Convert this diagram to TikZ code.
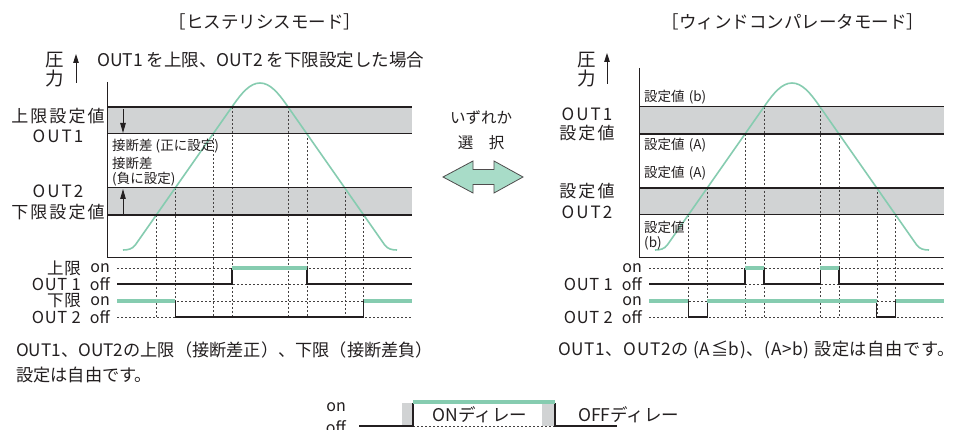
\documentclass[tikz,border=0pt]{standalone}
\usepackage{fontspec}
\setmainfont{Noto Sans CJK JP}
\usetikzlibrary{arrows.meta}
\definecolor{ink}{HTML}{231F20}
\definecolor{grn}{HTML}{86CCB0}
\definecolor{arrfill}{HTML}{A8DCC8}
\definecolor{band}{HTML}{D1D3D4}
\tikzset{
  lbl/.style={font=\fontsize{17.5}{20}\selectfont, text=ink, inner sep=0pt},
  side/.style={font=\fontsize{17}{20}\selectfont\addfontfeatures{LetterSpace=12}, text=ink, inner sep=0pt},
  ctr/.style={font=\fontsize{15.5}{18}\selectfont, text=ink, inner sep=0pt},
  bot/.style={font=\fontsize{17.2}{20}\selectfont, text=ink, inner sep=0pt},
  botr/.style={font=\fontsize{17.2}{20}\selectfont\addfontfeatures{LetterSpace=4}, text=ink, inner sep=0pt},
  prs/.style={font=\fontsize{18.5}{20}\selectfont, text=ink, inner sep=0pt},
  ttl/.style={font=\fontsize{17.5}{20}\selectfont, text=ink, inner sep=0pt},
  sml/.style={font=\fontsize{13.5}{16}\selectfont, text=ink, inner sep=0pt},
  onoff/.style={font=\fontsize{16}{18}\selectfont, text=ink, inner sep=0pt},
  onoffw/.style={font=\fontsize{16.5}{18}\selectfont\addfontfeatures{LetterSpace=4}, text=ink, inner sep=0pt},
  dsh/.style={draw=ink!85, line width=0.6pt, dash pattern=on 2.2pt off 1.8pt},
  sig/.style={draw=ink, line width=1.2pt},
  grs/.style={draw=grn, line width=4pt},
  thk/.style={draw=ink, line width=2.2pt},
  thn/.style={draw=ink, line width=1pt},
  curve/.style={draw=grn, line width=1.6pt},
}
\begin{document}
\begin{tikzpicture}[x=1pt,y=-1pt]
\useasboundingbox (0,0) rectangle (958,430);
\fill[white] (0,0) rectangle (958,430);

% ---------- common graph (drawn twice) ----------
\foreach \sh in {0,532}{
\begin{scope}[xshift=\sh]
  \coordinate (c107a) at (231.9,107); \coordinate (c107b) at (288.1,107);
  \coordinate (c134a) at (213.0,134); \coordinate (c134b) at (307.0,134);
  \coordinate (c188a) at (175.2,188); \coordinate (c188b) at (344.8,188);
  \coordinate (c215a) at (156.3,215); \coordinate (c215b) at (363.7,215);
  \fill[band] (107,107) rectangle (412,134);
  \fill[band] (107,188) rectangle (412,215);
  \foreach \c in {c107a,c107b,c134a,c134b,c188a,c188b,c215a,c215b}
    \draw[dsh] (\c) -- (\c |- 0,317);
  \foreach \yy in {268,284,301,317} \draw[dsh] (117,\yy) -- (412,\yy);
  \draw[curve] (123,250) .. controls (128,250) and (132.5,249) .. (135.3,245)
     -- (233.3,105) .. controls (241.7,93) and (250,83) .. (260,83)
     .. controls (270,83) and (278.3,93) .. (286.7,105)
     -- (384.7,245) .. controls (387.5,249) and (392,250) .. (397,250);
\end{scope}
}

% ---------- left graph specifics ----------
\draw[thk] (107,107) -- (412,107);
\draw[thn] (107,134) -- (412,134);
\draw[thn] (107,188) -- (412,188);
\draw[thk] (107,215) -- (412,215);
\draw[thn] (107,82) -- (107,258) -- (412,258);
\draw[line width=0.9pt, ink, -{Triangle[length=10pt,width=5.5pt]}] (123,109) -- (123,133);
\draw[line width=0.9pt, ink, -{Triangle[length=10pt,width=5.5pt]}] (123,214) -- (123,189);
\draw[sig] (117,284) -- (231.9,284) -- (231.9,268);
\draw[sig] (307,268) -- (307,284) -- (412,284);
\draw[grs] (231.9,268) -- (307,268);
\draw[sig] (175.2,301) -- (175.2,317) -- (363.7,317) -- (363.7,301);
\draw[grs] (117,301) -- (175.2,301);
\draw[grs] (363.7,301) -- (412,301);

% ---------- right graph specifics ----------
\begin{scope}[xshift=532]
\draw[thn] (107,107) -- (412,107);
\draw[thk] (107,134) -- (412,134);
\draw[thk] (107,188) -- (412,188);
\draw[thn] (107,215) -- (412,215);
\draw[thn] (107,68) -- (107,258) -- (412,258);
\draw[sig] (117,284) -- (213,284) -- (213,268);
\draw[sig] (231.9,268) -- (231.9,284) -- (288.1,284) -- (288.1,268);
\draw[sig] (307,268) -- (307,284) -- (412,284);
\draw[grs] (213,268) -- (231.9,268);
\draw[grs] (288.1,268) -- (307,268);
\draw[sig] (156.3,301) -- (156.3,317) -- (175.2,317) -- (175.2,301);
\draw[sig] (344.8,301) -- (344.8,317) -- (363.7,317) -- (363.7,301);
\draw[grs] (117,301) -- (156.3,301);
\draw[grs] (175.2,301) -- (344.8,301);
\draw[grs] (363.7,301) -- (412,301);
\end{scope}

% ---------- titles ----------
\node[ttl] (t1) at (265,22) {［ヒステリシスモード］};
\node[ttl] (t2) at (793,22) {［ウィンドコンパレータモード］};
\node[lbl, anchor=west] (sub) at (97,60) {OUT1 を上限、OUT2 を下限設定した場合};

% pressure axes labels
\node[prs] (pa1) at (55,60) {圧};
\node[prs] (pb1) at (55,79) {力};
\coordinate (ar1s) at (76,83); \coordinate (ar1e) at (76,54);
\draw[line width=0.9pt, ink, -{Triangle[length=9pt,width=5.5pt]}] (ar1s) -- (ar1e);
\node[prs] (pa2) at (587,60) {圧};
\node[prs] (pb2) at (587,79) {力};
\coordinate (ar2s) at (607,84); \coordinate (ar2e) at (607,53);
\draw[line width=0.9pt, ink, -{Triangle[length=9pt,width=5.5pt]}] (ar2s) -- (ar2e);

% left side labels
\node[side] (l1) at (58,116) {上限設定値};
\node[side] (l2) at (58,136) {OUT1};
\node[side] (l3) at (58,191) {OUT2};
\node[side] (l4) at (58,212) {下限設定値};
\node[sml, anchor=west] (s1) at (112,146) {接断差 (正に設定)};
\node[sml, anchor=west] (s2) at (112,163) {接断差};
\node[sml, anchor=west] (s3) at (112,179) {(負に設定)};

% right side labels
\node[side] (r1) at (587,114) {OUT1};
\node[side] (r2) at (587,133) {設定値};
\node[side] (r3) at (587,191) {設定値};
\node[side] (r4) at (587,212) {OUT2};
\node[sml, anchor=west] (q1) at (644,97) {設定値\hspace{0.3em}(b)};
\node[sml, anchor=west] (q2) at (644,145) {設定値\hspace{0.3em}(A)};
\node[sml, anchor=west] (q3) at (644,173) {設定値\hspace{0.3em}(A)};
\node[sml, anchor=west] (q4) at (644,227) {設定値};
\node[sml, anchor=west] (q5) at (644,243) {(b)};

% timing labels left
\node[onoffw, anchor=east] (tl1) at (81,268) {上限};
\node[onoffw, anchor=east] (tl2) at (81,284) {OUT 1};
\node[onoffw, anchor=east] (tl3) at (81,301) {下限};
\node[onoffw, anchor=east] (tl4) at (81,317) {OUT 2};
\node[onoff, anchor=east] (to1) at (110,268) {on};
\node[onoff, anchor=east] (to2) at (110,284) {off};
\node[onoff, anchor=east] (to3) at (110,301) {on};
\node[onoff, anchor=east] (to4) at (110,317) {off};
% timing labels right
\node[onoffw, anchor=east] (tr2) at (613,284) {OUT 1};
\node[onoffw, anchor=east] (tr4) at (613,317) {OUT 2};
\node[onoff, anchor=east] (ro1) at (642,268) {on};
\node[onoff, anchor=east] (ro2) at (642,284) {off};
\node[onoff, anchor=east] (ro3) at (642,301) {on};
\node[onoff, anchor=east] (ro4) at (642,317) {off};

% center
\node[ctr] (c1) at (481,118) {いずれか};
\node[ctr] (c2) at (481,143) {選　択};
\draw[draw=ink!80, line width=0.8pt, fill=arrfill]
  (443,177) -- (473,161) -- (473,169.5) -- (494,169.5) -- (494,161) -- (523,177)
  -- (494,193) -- (494,184.5) -- (473,184.5) -- (473,193) -- cycle;

% bottom texts
\node[bot, anchor=west] (b1) at (16,350) {OUT1、OUT2の上限（接断差正）、下限（接断差負）};
\node[bot, anchor=west] (b2) at (16,375) {設定は自由です。};
\node[botr, anchor=west] (b3) at (558,350) {OUT1、OUT2の (A≦b)、(A>b) 設定は自由です。};

% legend
\fill[band] (402,403) rectangle (413,426);
\fill[band] (542,403) rectangle (555,426);
\draw[dsh] (413,426) -- (555,426);
\draw[sig] (359,426) -- (413,426) -- (413,403);
\draw[sig] (555,403) -- (555,426) -- (617,426);
\draw[grs] (413,402) -- (555,402);
\node[onoff, anchor=east] (lg1) at (346,407) {on};
\node[onoff, anchor=east] (lg2) at (346,427) {off};
\node[lbl] (lg3) at (480,415) {ONディレー};
\node[lbl, anchor=west] (lg4) at (578,415) {OFFディレー};
\end{tikzpicture}
\end{document}
